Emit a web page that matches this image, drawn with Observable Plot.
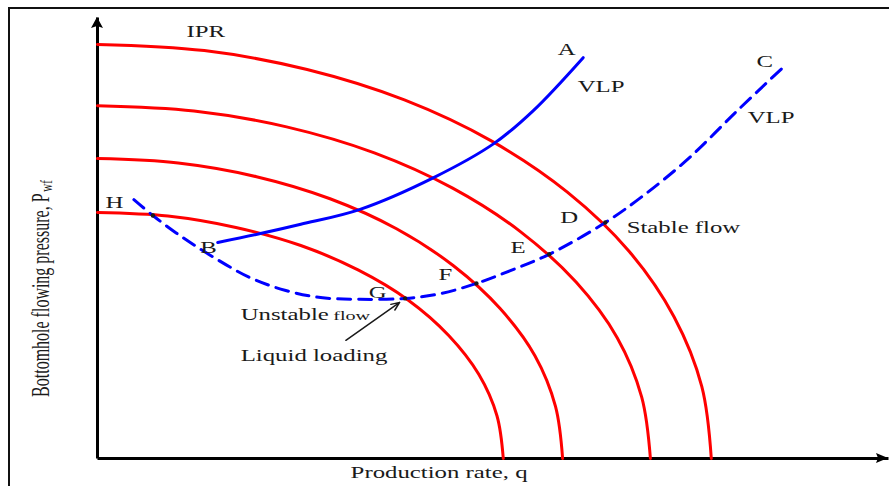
<!DOCTYPE html>
<html>
<head>
<meta charset="utf-8">
<script src="https://cdn.jsdelivr.net/npm/d3@7"></script>
<script src="https://cdn.jsdelivr.net/npm/@observablehq/plot@0.6"></script>
<style>
  html, body { margin: 0; padding: 0; background: #fff; }
  #chart { width: 889px; height: 486px; overflow: hidden; }
</style>
</head>
<body>
<div id="chart"></div>
<script>
// Inflow performance curves, [q, pwf] in relative units, one per reservoir pressure
const ipr1 = [[0, 55.8], [8.9, 55.0], [17.5, 52.4], [25.7, 48.3], [33.0, 42.7], [39.3, 35.9], [44.4, 27.9], [48.2, 19.1], [50.5, 9.7], [51.3, 0]];
const ipr2 = [[0, 68.0], [10.2, 67.0], [20.1, 63.9], [29.4, 58.9], [37.8, 52.1], [45.0, 43.7], [50.9, 34.0], [55.3, 23.3], [57.9, 11.8], [58.8, 0]];
const ipr3 = [[0, 80.0], [12.2, 78.8], [23.9, 75.2], [35.0, 69.3], [44.9, 61.3], [53.5, 51.4], [60.5, 40.0], [65.7, 27.4], [68.8, 13.9], [69.9, 0]];
const ipr4 = [[0, 93.9], [13.5, 92.5], [26.5, 88.2], [38.8, 81.3], [49.9, 71.9], [59.4, 60.4], [67.2, 47.0], [72.9, 32.1], [76.4, 16.3], [77.6, 0]];

// Vertical lift performance, B to A (solid)
const vlpSolid = [[15.2, 49.0], [20.6, 51.0], [25.7, 53.1], [33.2, 56.5], [42.5, 63.7], [50.1, 71.4], [55.1, 78.9], [61.4, 90.9]];

// Vertical lift performance, H to C (dashed)
const vlpDashed = [[4.6, 58.7], [7.0, 55.1], [9.9, 51.2], [13.7, 46.7], [19.3, 41.0], [23.8, 38.1], [28.2, 36.5], [33.2, 36.1], [38.9, 36.3], [43.4, 37.4], [47.9, 39.7], [52.2, 42.6], [57.1, 46.3], [64.2, 53.5], [69.0, 59.6], [74.7, 68.0], [80.9, 78.9], [86.5, 88.4]];

// Intersections of the dashed VLP with the IPR curves
const operatingPoints = [[7.0, 55.1], [38.9, 36.3], [47.9, 39.7], [57.1, 46.3], [64.2, 53.5]];

// Letter and curve labels: [text, q, pwf] (start of text, baseline)
const labels = [
  ["IPR", 11.25, 95.5], ["A", 58.2, 91.4], ["VLP", 60.7, 83.2],
  ["C", 83.3, 88.7], ["VLP", 82.2, 76.0], ["H", 1.0, 56.7],
  ["B", 13.0, 46.7], ["D", 58.5, 53.3], ["E", 52.2, 46.5],
  ["F", 43.1, 40.4], ["G", 34.3, 36.5], ["Stable flow", 66.9, 51.2],
  ["Unstable", 18.1, 31.3], ["Liquid loading", 18.1, 22.2],
  ["Production rate, q", 32.0, -4.5]
];
const smallLabels = [["flow", 29.8, 31.3]];

// Pointer from the liquid-loading note to point G
const pointer = [[31.4, 26.8, 38.2, 35.4]];

// Axis titles (rotated)
const yTitle = [["Bottomhole flowing pressure, P", -6.07, 60.1]];
const yTitleSub = [["wf", -5.69, 60.5]];

const axisMax = 100;
const axes = [
  {x1: 0, y1: 0, x2: 0, y2: axisMax},
  {x1: 0, y1: 0, x2: axisMax, y2: 0}
];

const toRows = arr => arr.map(([q, p]) => ({q, p}));
const toText = arr => arr.map(([t, q, p]) => ({t, q, p}));

const red = "#ff0000";
const blue = "#0000ff";
const ink = "#1a1a1a";

const chart = Plot.plot({
  width: 889,
  height: 486,
  marginLeft: 97,
  marginRight: 1,
  marginTop: 17,
  marginBottom: 28,
  x: {domain: [0, 100], axis: null},
  y: {domain: [0, 100], axis: null},
  style: {fontFamily: "'Liberation Serif', 'DejaVu Serif', serif", background: "white"},
  marks: [
    Plot.link(axes, {x1: "x1", y1: "y1", x2: "x2", y2: "y2", stroke: "black", strokeWidth: 3}),
    ...[ipr1, ipr2, ipr3, ipr4].map(c =>
      Plot.line(toRows(c), {x: "q", y: "p", stroke: red, strokeWidth: 3, curve: "catmull-rom"})
    ),
    Plot.line(toRows(vlpSolid), {x: "q", y: "p", stroke: blue, strokeWidth: 3, curve: "catmull-rom"}),
    Plot.line(toRows(vlpDashed), {x: "q", y: "p", stroke: blue, strokeWidth: 3, strokeDasharray: "13,8", curve: "catmull-rom"}),
    Plot.dot(toRows(operatingPoints), {x: "q", y: "p", r: 2.2, fill: ink}),
    Plot.arrow(pointer.map(([a, b, c, d]) => ({a, b, c, d})), {
      x1: "a", y1: "b", x2: "c", y2: "d", stroke: ink, strokeWidth: 1.5, headLength: 9, headAngle: 45
    }),
    Plot.text(toText(labels), {x: "q", y: "p", text: "t", textAnchor: "start", lineAnchor: "bottom", fontSize: 16, fill: ink}),
    Plot.text(toText(smallLabels), {x: "q", y: "p", text: "t", textAnchor: "start", lineAnchor: "bottom", fontSize: 13, fill: ink}),
    Plot.text(toText(yTitle), {x: "q", y: "p", text: "t", rotate: -90, textAnchor: "end", lineAnchor: "bottom", fontSize: 16, fill: ink}),
    Plot.text(toText(yTitleSub), {x: "q", y: "p", text: "t", rotate: -90, textAnchor: "start", lineAnchor: "bottom", fontSize: 11, fill: ink})
  ]
});

const svg = d3.select(chart);

// Widen the serif lettering horizontally
svg.selectAll('g[aria-label="text"] text').each(function() {
  let t = this.getAttribute("transform") || "";
  if (!t.includes("translate")) {
    const tx = +this.getAttribute("x") || 0, ty = +this.getAttribute("y") || 0;
    this.removeAttribute("x"); this.removeAttribute("y");
    t = `translate(${tx},${ty}) ` + t;
  }
  this.setAttribute("transform", t + (t.includes("rotate") ? " scale(1,1.55)" : " scale(1.55,1)"));
});

// Filled arrowheads at the ends of both axes
const sx = chart.scale("x"), sy = chart.scale("y");
const px = v => sx.apply(v), py = v => sy.apply(v);
const originX = px(0), originY = py(0), yAxisTip = py(axisMax), xAxisTip = px(axisMax);
svg.append("path")
  .attr("d", `M${originX},${yAxisTip}L${originX - 6},${yAxisTip + 11}L${originX},${yAxisTip + 9}L${originX + 6},${yAxisTip + 11}Z`)
  .attr("fill", "black");
svg.append("path")
  .attr("d", `M${xAxisTip},${originY}L${xAxisTip - 12},${originY - 5}L${xAxisTip - 10},${originY}L${xAxisTip - 12},${originY + 5}Z`)
  .attr("fill", "black");

// Outer frame
svg.append("rect")
  .attr("x", 9).attr("y", 8).attr("width", 900).attr("height", 500)
  .attr("fill", "none").attr("stroke", "#111").attr("stroke-width", 2);

document.getElementById("chart").appendChild(chart);
</script>
</body>
</html>
